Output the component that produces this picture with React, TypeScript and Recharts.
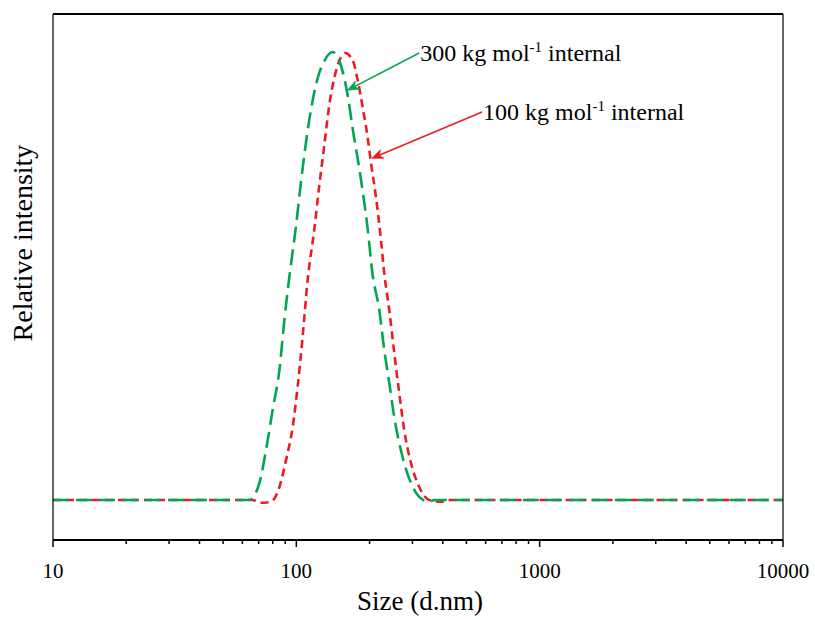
import React from 'react';
import { LineChart, Line, XAxis, YAxis, ReferenceLine } from 'recharts';

// Size (d.nm) and relative intensity for the 300 kg/mol internal sample (green)
const green300 = [
  { size: 10, v: 0 }, { size: 40, v: 0 }, { size: 64.1, v: 0 }, { size: 70.5, v: 3.8 },
  { size: 75.1, v: 11.2 }, { size: 79.9, v: 20.1 }, { size: 85.2, v: 29 }, { size: 89.3, v: 40.2 },
  { size: 93.6, v: 49.8 }, { size: 99.7, v: 61.2 }, { size: 104.5, v: 71 }, { size: 109.6, v: 79.9 },
  { size: 115, v: 87.3 }, { size: 122.4, v: 94.2 }, { size: 130.3, v: 98 }, { size: 141, v: 100 },
  { size: 150.2, v: 98 }, { size: 157.4, v: 94.2 }, { size: 164, v: 89.1 }, { size: 170.3, v: 83 },
  { size: 178.6, v: 76.3 }, { size: 187.3, v: 69 }, { size: 196.3, v: 60.7 }, { size: 205.6, v: 50.5 },
  { size: 219.3, v: 42.4 }, { size: 229.8, v: 33.5 }, { size: 241, v: 26.1 }, { size: 252.6, v: 18.5 },
  { size: 273.3, v: 9.6 }, { size: 295.8, v: 3.8 }, { size: 320, v: 0.7 }, { size: 351.6, v: -0.4 },
  { size: 368.7, v: 0 }, { size: 1000, v: 0 }, { size: 10000, v: 0 },
];

// 100 kg/mol internal sample (red)
const red100 = [
  { size: 10, v: 0 }, { size: 40, v: 0 }, { size: 66, v: 0 }, { size: 71.6, v: -0.6 },
  { size: 78.7, v: -0.4 }, { size: 85.2, v: 2.9 }, { size: 90.7, v: 8.9 }, { size: 96.6, v: 16.3 },
  { size: 101.2, v: 25.2 }, { size: 106.1, v: 36.4 }, { size: 111.3, v: 49.1 }, { size: 118.6, v: 60.5 },
  { size: 124.3, v: 70.3 }, { size: 130.3, v: 79.2 }, { size: 136.6, v: 88.2 }, { size: 143.2, v: 94.2 },
  { size: 152.6, v: 98.9 }, { size: 158.5, v: 99.8 }, { size: 170.3, v: 98.2 }, { size: 178.6, v: 93.8 },
  { size: 187.3, v: 87.7 }, { size: 196.3, v: 81 }, { size: 202.7, v: 75.2 }, { size: 212.5, v: 67.6 },
  { size: 222.8, v: 58 }, { size: 229.8, v: 50.6 }, { size: 241, v: 42.4 }, { size: 252.6, v: 32.8 },
  { size: 264.8, v: 23.9 }, { size: 277.6, v: 15.6 }, { size: 295.8, v: 8.3 }, { size: 320, v: 2.9 },
  { size: 351.6, v: 0 }, { size: 397.9, v: -0.4 }, { size: 430, v: 0 }, { size: 1000, v: 0 }, { size: 10000, v: 0 },
];

const majorTicks = [10, 100, 1000, 10000];
const minorTicks = [20, 30, 40, 50, 60, 70, 80, 90, 200, 300, 400, 500, 600, 700, 800, 900,
  2000, 3000, 4000, 5000, 6000, 7000, 8000, 9000];
const allTicks = [...majorTicks, ...minorTicks].sort((a, b) => a - b);

const annotations = [
  { name: '300', color: '#00A651', from: { x: 320, y: 99.8 }, to: { x: 162.4, y: 91.5 } },
  { name: '100', color: '#ED1C24', from: { x: 580, y: 86.6 }, to: { x: 204.6, y: 76.3 } },
];

const GREEN = '#00A651';
const RED = '#ED1C24';
const FONT = '"Liberation Serif", "Times New Roman", serif';

const XTick = (props: any) => {
  const { x, y, payload } = props;
  const major = majorTicks.includes(payload.value);
  return (
    <g>
      <line x1={x} x2={x} y1={y} y2={y + (major ? 7 : 4)} stroke="#000" strokeWidth={1.5} />
      {major && (
        <text x={x} y={y + 38} textAnchor="middle" fontFamily={FONT} fontSize={21} fill="#000">
          {payload.value}
        </text>
      )}
    </g>
  );
};

const makeArrow = (name: string, color: string) => (props: any) => {
  const { x1, y1, x2, y2 } = props;
  const dx = x2 - x1;
  const dy = y2 - y1;
  const len = Math.sqrt(dx * dx + dy * dy) || 1;
  const ux = dx / len;
  const uy = dy / len;
  const nx = -uy;
  const ny = ux;
  const L = 11;
  const W = 4.5;
  const bx = x2 - ux * L;
  const by = y2 - uy * L;
  const mx = x2 - ux * L * 0.7;
  const my = y2 - uy * L * 0.7;
  const pts = `${x2},${y2} ${bx + nx * W},${by + ny * W} ${mx},${my} ${bx - nx * W},${by - ny * W}`;
  return (
    <g>
      <line x1={x1} y1={y1} x2={mx} y2={my} stroke={color} strokeWidth={1.6} />
      <polygon points={pts} fill={color} stroke={color} strokeWidth={0.8} />
      <text x={x1 + 1} y={y1 + 8} fontFamily={FONT} fontSize={24} fill="#000">
        {name} kg mol
        <tspan fontSize={15} dy={-9}>-1</tspan>
        <tspan dy={9}> internal</tspan>
      </text>
    </g>
  );
};

const YDOMAIN: [number, number] = [-8.93, 108.5];

export default function App() {
  return (
    <div style={{ position: 'absolute', left: 0, top: 0, background: '#fff' }}>
      <LineChart width={815} height={619} margin={{ top: 13, right: 31, bottom: 0, left: 0 }}>
        <XAxis
          dataKey="size"
          type="number"
          scale="log"
          domain={[10, 10000]}
          allowDataOverflow
          ticks={allTicks}
          interval={0}
          tick={<XTick />}
          tickLine={false}
          tickSize={0}
          tickMargin={0}
          height={79}
          axisLine={{ stroke: '#000', strokeWidth: 2 }}
          label={{
            content: (p: any) => {
              const vb = p.viewBox || {};
              return (
                <text x={vb.x + vb.width / 2 + 2} y={vb.y + 70} textAnchor="middle" fontFamily={FONT} fontSize={27} fill="#000">
                  Size (d.nm)
                </text>
              );
            },
          }}
        />
        <XAxis
          xAxisId="top"
          orientation="top"
          type="number"
          scale="log"
          domain={[10, 10000]}
          allowDataOverflow
          tick={false}
          tickLine={false}
          height={1}
          axisLine={{ stroke: '#000', strokeWidth: 2 }}
        />
        <YAxis
          type="number"
          domain={YDOMAIN}
          allowDataOverflow
          tick={false}
          tickLine={false}
          width={53}
          axisLine={{ stroke: '#000', strokeWidth: 1.2 }}
          label={{
            content: (p: any) => {
              const vb = p.viewBox || {};
              const cx = 32;
              const cy = vb.y + vb.height / 2 - 34;
              return (
                <text x={cx} y={cy} transform={`rotate(-90, ${cx}, ${cy})`} textAnchor="middle" fontFamily={FONT} fontSize={28} fill="#000">
                  Relative intensity
                </text>
              );
            },
          }}
        />
        <YAxis
          yAxisId="right"
          orientation="right"
          type="number"
          domain={YDOMAIN}
          allowDataOverflow
          tick={false}
          tickLine={false}
          width={1}
          axisLine={{ stroke: '#000', strokeWidth: 1.2 }}
        />
        <Line
          data={red100}
          dataKey="v"
          type="monotone"
          stroke={RED}
          strokeWidth={2.6}
          strokeDasharray="8 5"
          dot={false}
          isAnimationActive={false}
        />
        <Line
          data={green300}
          dataKey="v"
          type="monotone"
          stroke={GREEN}
          strokeWidth={2.6}
          strokeDasharray="16 7"
          dot={false}
          isAnimationActive={false}
        />
        {annotations.map((a) => (
          <ReferenceLine
            key={a.name}
            segment={[a.from, a.to]}
            ifOverflow="visible"
            stroke={a.color}
            shape={makeArrow(a.name, a.color)}
          />
        ))}
      </LineChart>
    </div>
  );
}
